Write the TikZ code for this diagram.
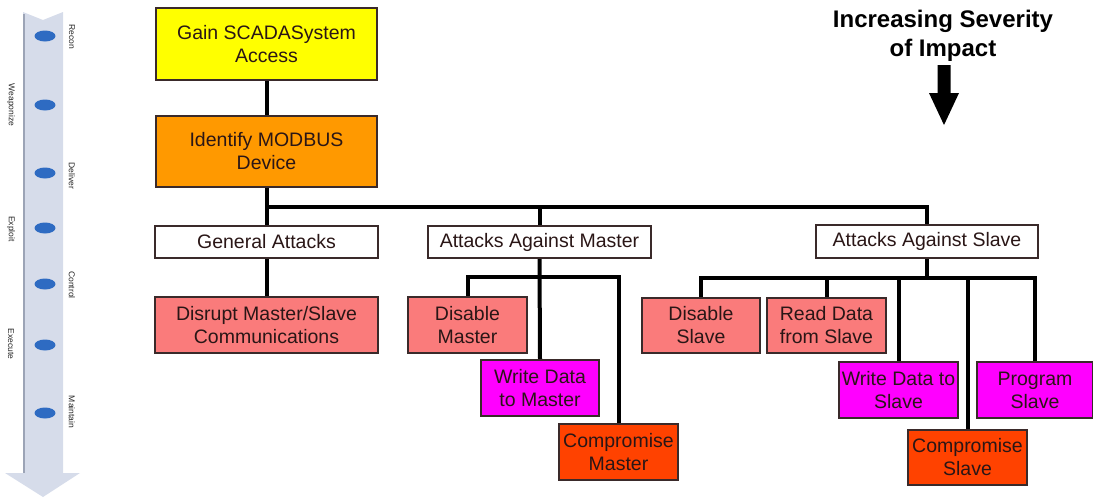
\documentclass[tikz,border=0pt]{standalone}
\usepackage{fontspec}
\setmainfont{Liberation Sans}
\usetikzlibrary{backgrounds}
\definecolor{boxline}{HTML}{3A2A2A}
\definecolor{boxtext}{HTML}{2A1616}
\definecolor{cyellow}{HTML}{FFFF00}
\definecolor{corange}{HTML}{FF9900}
\definecolor{csalmon}{HTML}{FA7B7B}
\definecolor{cmagenta}{HTML}{FF00FF}
\definecolor{cred}{HTML}{FF4200}
\definecolor{arrowfill}{HTML}{D6DCEA}
\definecolor{arrowedge}{HTML}{9CA4B6}
\definecolor{dotblue}{HTML}{2E6BC2}
\begin{document}
\begin{tikzpicture}[x=1pt,y=-1pt,
  box/.style={draw=boxline, line width=1.4pt, inner xsep=0pt, inner ysep=0pt,
    align=center, font=\fontsize{19.5}{23}\selectfont, text=boxtext},
  conn/.style={line width=4pt, draw=black},
  phase/.style={rotate=-90, font=\fontsize{8.5}{9}\selectfont, text=black!85, inner sep=0pt},
  dot/.style={fill=dotblue}]
\useasboundingbox (0,0) rectangle (1093,499);

% left kill-chain arrow
\fill[arrowfill] (23,12) -- (43,20) -- (63,12) -- (63,473) -- (80,473) -- (43,497) -- (5,473) -- (23,473) -- cycle;
\draw[arrowedge, line width=1.6pt] (24,14) -- (24,473);
\foreach \yy in {36,105,173,228,284,345,413}
  \fill[dot] (45,\yy) ellipse [x radius=10.5pt, y radius=5.5pt];
\node[phase] (recon) at (72,37) {Recon};
\node[phase] (deliver) at (72,176) {Deliver};
\node[phase] (control) at (72,285) {Control};
\node[phase] (maintain) at (72,412) {Maintain};
\node[phase] (weap) at (11,105) {Weaponize};
\node[phase] (exploit) at (11,229) {Exploit};
\node[phase] (execute) at (11,344) {Execute};

% title and arrow
\node[font=\bfseries\fontsize{24}{29}\selectfont, align=center, inner sep=0pt] (title) at (943,36) {Increasing Severity\\of Impact};
\fill (937.5,65) -- (950.5,65) -- (950.5,93) -- (959,93) -- (944,125) -- (929,93) -- (937.5,93) -- cycle;

% boxes
\node[box, fill=cyellow, minimum width=221pt, minimum height=72pt] (gain) at (266.5,44) {Gain SCADASystem\\Access};
\node[box, fill=corange, minimum width=221pt, minimum height=71pt] (ident) at (266.5,151.5) {Identify MODBUS\\Device};
\node[box, fill=white, minimum width=223pt, minimum height=32pt] (general) at (266.5,242) {General Attacks};
\node[box, fill=white, minimum width=223pt, minimum height=32pt] (amaster) at (539.5,242) {Attacks Against Master};
\node[box, fill=white, minimum width=222pt, minimum height=33pt] (aslave) at (927,241.5) {Attacks Against Slave};
\node[box, fill=csalmon, minimum width=223pt, minimum height=56pt] (disrupt) at (266.5,325) {Disrupt Master/Slave\\Communications};
\node[box, fill=csalmon, minimum width=119pt, minimum height=56pt] (dmaster) at (467.5,325) {Disable\\Master};
\node[box, fill=cmagenta, minimum width=118pt, minimum height=56pt] (wmaster) at (540,388) {Write Data\\to Master};
\node[box, fill=cred, minimum width=119pt, minimum height=56pt] (cmaster) at (618.5,452) {Compromise\\Master};
\node[box, fill=csalmon, minimum width=118pt, minimum height=55pt] (dslave) at (701,325.5) {Disable\\Slave};
\node[box, fill=csalmon, minimum width=119pt, minimum height=55pt] (rslave) at (826.5,325.5) {Read Data\\from Slave};
\node[box, fill=cmagenta, minimum width=119pt, minimum height=56pt] (wslave) at (898.5,390) {Write Data to\\Slave};
\node[box, fill=cmagenta, minimum width=116pt, minimum height=56pt] (pslave) at (1035,390) {Program\\Slave};
\node[box, fill=cred, minimum width=119pt, minimum height=55pt] (cslave) at (967.5,457.5) {Compromise\\Slave};

\coordinate (b1) at (0,207);
\coordinate (b2) at (0,277);
\coordinate (b3) at (0,278);

\begin{pgfonlayer}{background}
\draw[conn] (gain.south) -- (ident.north);
\draw[conn] (ident.south) -- (general.north);
\draw[conn] (ident.south |- b1) -| (amaster.north);
\draw[conn] (ident.south |- b1) -| (aslave.north);
\draw[conn] (general.south) -- (disrupt.north);
\draw[conn] (amaster.south) -- (wmaster.north);
\draw[conn] (amaster.south |- b2) -| (dmaster.north);
\draw[conn] (amaster.south |- b2) -| (cmaster.north);
\draw[conn] (aslave.south) -- (aslave.south |- b3);
\draw[conn] (aslave.south |- b3) -| (dslave.north);
\draw[conn] (aslave.south |- b3) -| (rslave.north);
\draw[conn] (aslave.south |- b3) -| (wslave.north);
\draw[conn] (aslave.south |- b3) -| (pslave.north);
\draw[conn] (aslave.south |- b3) -| (cslave.north);
\end{pgfonlayer}
\end{tikzpicture}
\end{document}
